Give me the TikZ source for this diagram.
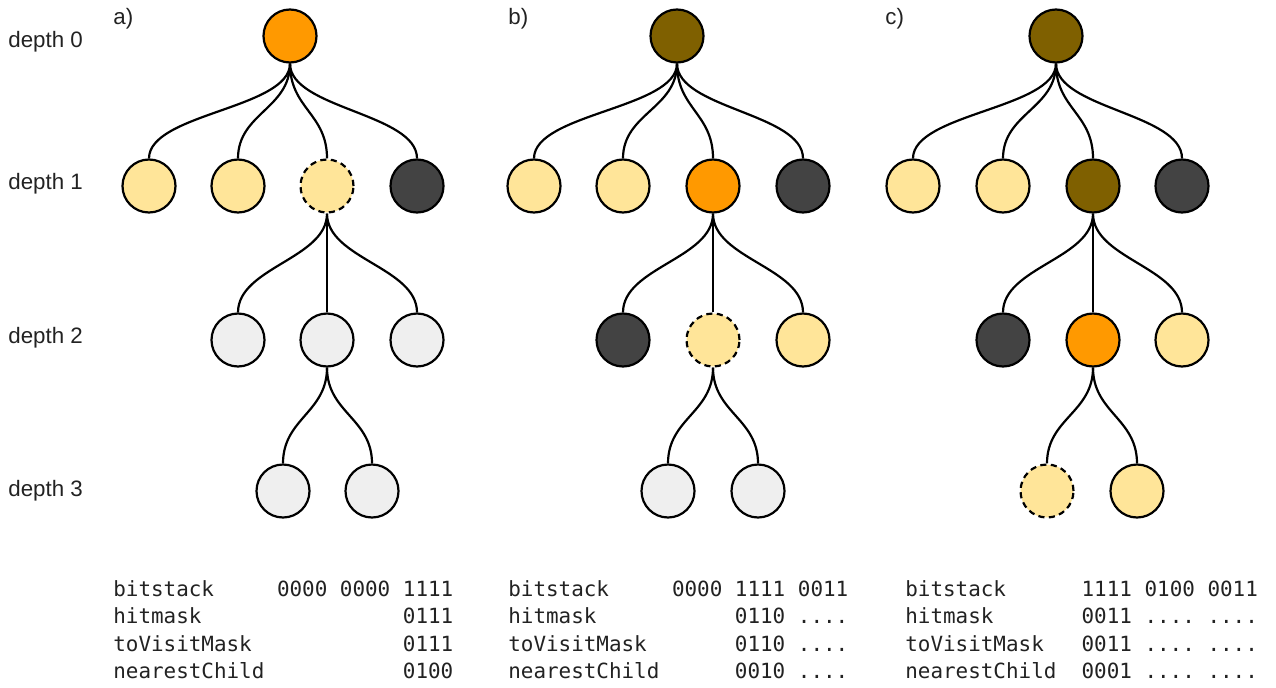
\documentclass[tikz,border=0pt]{standalone}
\usepackage{fontspec}
\setmainfont{Liberation Sans}
\newfontfamily\codefont{DejaVu Sans Mono}
\usepackage{tikz}

\definecolor{lightyel}{HTML}{FFE599}
\definecolor{hitorg}{HTML}{FF9900}
\definecolor{donebrn}{HTML}{7F6000}
\definecolor{missgry}{HTML}{434343}
\definecolor{idlegry}{HTML}{EFEFEF}
\definecolor{txtblk}{HTML}{222222}

\begin{document}
\begin{tikzpicture}[x=0.2mm, y=-0.2mm,
        nd/.style  ={circle, draw, line width=1.25pt, minimum size=10.6mm, inner sep=0pt},
        yel/.style ={nd, fill=lightyel},
        org/.style ={nd, fill=hitorg},
        brn/.style ={nd, fill=donebrn},
        drk/.style ={nd, fill=missgry},
        gry/.style ={nd, fill=idlegry},
        nxt/.style ={yel, dash pattern=on 3.5pt off 2.5pt},
        crv/.style ={line width=1.25pt,
            to path={.. controls +(0,45) and +(0,-45) .. (\tikztotarget)}},
        lvl/.style ={font=\fontsize{12.7}{15}\selectfont, text=txtblk, anchor=base west, inner sep=0pt},
        code/.style={font=\codefont\fontsize{11.9}{14}\selectfont, text=txtblk, anchor=base west, inner sep=0pt},]

    \useasboundingbox (0,0) rectangle (1276,688);

    % depth labels
    \node[lvl] (d0) at (8, 48) {depth 0};
    \node[lvl] (d1) at (8, 189) {depth 1};
    \node[lvl] (d2) at (8, 343) {depth 2};
    \node[lvl] (d3) at (8, 496) {depth 3};

    % panel labels
    \node[lvl] (pa) at (113, 25) {a)};
    \node[lvl] (pb) at (508, 25) {b)};
    \node[lvl] (pc) at (885, 25) {c)};

    % a)
    \node[org] (a0)  at (290,  36) {};
    \node[yel] (a11) at (149, 186) {};
    \node[yel] (a12) at (238, 186) {};
    \node[nxt] (a13) at (327, 186) {};
    \node[drk] (a14) at (417, 186) {};
    \node[gry] (a21) at (238, 340) {};
    \node[gry] (a22) at (327, 340) {};
    \node[gry] (a23) at (417, 340) {};
    \node[gry] (a31) at (283, 491) {};
    \node[gry] (a32) at (372, 491) {};

    \draw[crv] (a0.south) to (a11.north);
    \draw[crv] (a0.south) to (a12.north);
    \draw[crv] (a0.south) to (a13.north);
    \draw[crv] (a0.south) to (a14.north);
    \draw[crv] (a13.south) to (a21.north);
    \draw[crv] (a13.south) to (a22.north);
    \draw[crv] (a13.south) to (a23.north);
    \draw[crv] (a22.south) to (a31.north);
    \draw[crv] (a22.south) to (a32.north);

    % b)
    \node[brn] (b0)  at (677,  36) {};
    \node[yel] (b11) at (534, 186) {};
    \node[yel] (b12) at (623, 186) {};
    \node[org] (b13) at (713, 186) {};
    \node[drk] (b14) at (803, 186) {};
    \node[drk] (b21) at (623, 340) {};
    \node[nxt] (b22) at (713, 340) {};
    \node[yel] (b23) at (803, 340) {};
    \node[gry] (b31) at (668, 491) {};
    \node[gry] (b32) at (758, 491) {};

    \draw[crv] (b0.south) to (b11.north);
    \draw[crv] (b0.south) to (b12.north);
    \draw[crv] (b0.south) to (b13.north);
    \draw[crv] (b0.south) to (b14.north);
    \draw[crv] (b13.south) to (b21.north);
    \draw[crv] (b13.south) to (b22.north);
    \draw[crv] (b13.south) to (b23.north);
    \draw[crv] (b22.south) to (b31.north);
    \draw[crv] (b22.south) to (b32.north);

    % c)
    \node[brn] (c0)  at (1056,  36) {};
    \node[yel] (c11) at (913, 186) {};
    \node[yel] (c12) at (1003, 186) {};
    \node[brn] (c13) at (1093, 186) {};
    \node[drk] (c14) at (1182, 186) {};
    \node[drk] (c21) at (1003, 340) {};
    \node[org] (c22) at (1093, 340) {};
    \node[yel] (c23) at (1182, 340) {};
    \node[nxt] (c31) at (1047, 491) {};
    \node[yel] (c32) at (1137, 491) {};

    \draw[crv] (c0.south) to (c11.north);
    \draw[crv] (c0.south) to (c12.north);
    \draw[crv] (c0.south) to (c13.north);
    \draw[crv] (c0.south) to (c14.north);
    \draw[crv] (c13.south) to (c21.north);
    \draw[crv] (c13.south) to (c22.north);
    \draw[crv] (c13.south) to (c23.north);
    \draw[crv] (c22.south) to (c31.north);
    \draw[crv] (c22.south) to (c32.north);

    % register values
    \node[code] (ta1) at (113, 596) {bitstack~~~~~0000~0000~1111};
    \node[code] (ta2) at (113, 623) {hitmask~~~~~~~~~~~~~~~~0111};
    \node[code] (ta3) at (113, 651) {toVisitMask~~~~~~~~~~~~0111};
    \node[code] (ta4) at (113, 678) {nearestChild~~~~~~~~~~~0100};

    \node[code] (tb1) at (508, 596) {bitstack~~~~~0000~1111~0011};
    \node[code] (tb2) at (508, 623) {hitmask~~~~~~~~~~~0110~....};
    \node[code] (tb3) at (508, 651) {toVisitMask~~~~~~~0110~....};
    \node[code] (tb4) at (508, 678) {nearestChild~~~~~~0010~....};

    \node[code] (tc1) at (905, 596) {bitstack~~~~~~1111~0100~0011};
    \node[code] (tc2) at (905, 623) {hitmask~~~~~~~0011~....~....};
    \node[code] (tc3) at (905, 651) {toVisitMask~~~0011~....~....};
    \node[code] (tc4) at (905, 678) {nearestChild~~0001~....~....};
\end{tikzpicture}
\end{document}
